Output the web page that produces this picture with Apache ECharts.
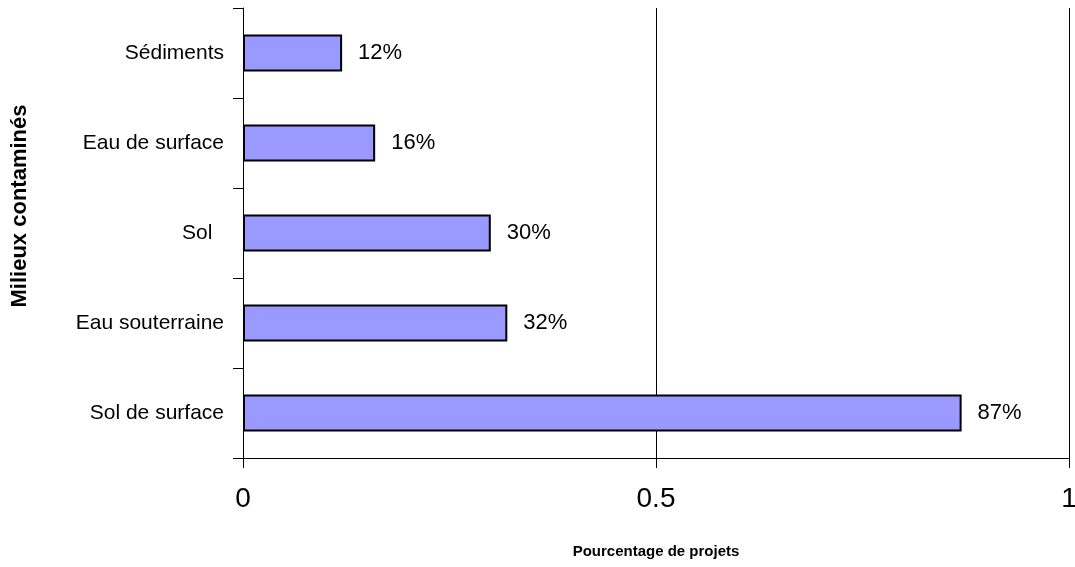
<!DOCTYPE html>
<html>
<head>
<meta charset="utf-8">
<script src="https://cdn.jsdelivr.net/npm/echarts@6/dist/echarts.min.js"></script>
<style>
  html, body { margin: 0; padding: 0; background: #fff; }
  #chart { width: 1075px; height: 567px; }
</style>
</head>
<body>
<div id="chart"></div>
<script>
// Contaminated media, listed bottom to top
const categories = ['Sol de surface', 'Eau souterraine', 'Sol  ', 'Eau de surface', 'Sédiments'];
// Share of projects for each medium
const shares = [0.87, 0.32, 0.30, 0.16, 0.12];
const xTicks = [0, 0.5, 1];

const FONT = 'Arial, "Liberation Sans", sans-serif';
const chart = echarts.init(document.getElementById('chart'), null, { renderer: 'canvas' });

chart.setOption({
  animation: false,
  backgroundColor: '#ffffff',
  grid: { left: 243, right: 6, top: 8, bottom: 109, containLabel: false, outerBoundsMode: 'none' },
  xAxis: {
    type: 'value',
    min: xTicks[0],
    max: xTicks[xTicks.length - 1],
    interval: 0.5,
    name: 'Pourcentage de projets',
    nameLocation: 'middle',
    nameGap: 86,
    nameTextStyle: { fontFamily: FONT, fontSize: 15, fontWeight: 'bold', color: '#000' },
    axisLine: { show: true, lineStyle: { color: '#000', width: 1 } },
    axisTick: { show: true, length: 10, lineStyle: { color: '#000', width: 1 } },
    axisLabel: { fontFamily: FONT, fontSize: 28, color: '#000', margin: 27,
      formatter: v => String(v) },
    splitLine: { show: true, lineStyle: { color: '#000', width: 1 } }
  },
  yAxis: {
    type: 'category',
    data: categories,
    axisLine: { show: true, lineStyle: { color: '#000', width: 1 } },
    axisTick: { show: true, length: 10, lineStyle: { color: '#000', width: 1 } },
    axisLabel: { fontFamily: FONT, fontSize: 21, color: '#000', margin: 19 },
    splitLine: { show: false }
  },
  // Vertical axis title, rotated to read bottom-to-top
  graphic: [{
    type: 'text',
    x: 20,
    y: 206,
    rotation: Math.PI / 2,
    style: {
      text: 'Milieux contaminés',
      fontFamily: FONT,
      fontSize: 22,
      fontWeight: 'bold',
      fill: '#000',
      align: 'center',
      verticalAlign: 'middle'
    }
  }],
  series: [{
    type: 'bar',
    data: shares,
    barWidth: 37,
    itemStyle: { color: '#9999FF', borderColor: '#000', borderWidth: 2 },
    label: {
      show: true,
      position: 'right',
      distance: 16,
      fontFamily: FONT,
      fontSize: 22,
      color: '#000',
      formatter: p => Math.round(p.value * 100) + '%'
    }
  }]
});
</script>
</body>
</html>
